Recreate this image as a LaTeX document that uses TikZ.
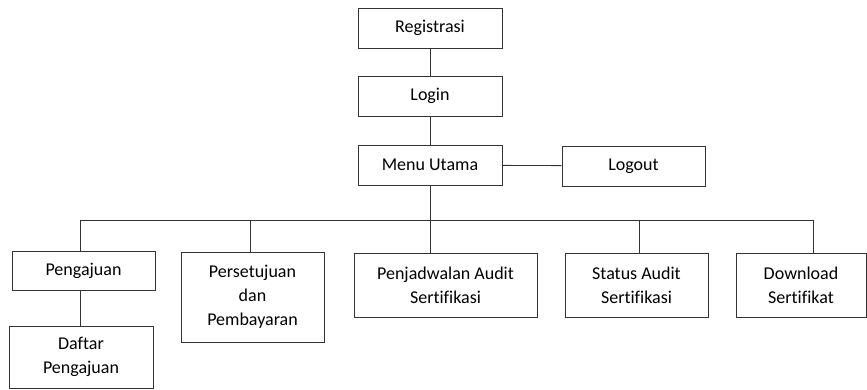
\documentclass[tikz,border=0pt]{standalone}
\usepackage{fontspec}
\setmainfont{Carlito}[Ligatures=NoCommon]
\usetikzlibrary{positioning}
\usetikzlibrary{calc}

\begin{document}
\begin{tikzpicture}[x=1pt,y=-1pt,
  box/.style={draw=black!80,line width=0.8pt,align=center,inner sep=0pt,
    font=\fontsize{18}{24}\selectfont,text=black},
  link/.style={draw=black!80,line width=0.8pt}]
\useasboundingbox (0,0) rectangle (867,389);
% atas
\node[box,minimum width=144,minimum height=40] (reg) at (430,28) {Registrasi};
\node[box,minimum width=144,minimum height=40] (login) at (430,96) {Login};
\node[box,minimum width=144,minimum height=40] (menu) at (430,165) {Menu Utama};
\node[box,minimum width=143,minimum height=40] (logout) at (633.5,166) {Logout};
% menu
\node[box,minimum width=143,minimum height=39] (peng) at (83.5,270.5) {Pengajuan};
\node[box,minimum width=144,minimum height=62] (daftar) at (81,357) {Daftar\\Pengajuan};
\node[box,minimum width=143,minimum height=90] (setuju) at (252.5,297) {Persetujuan\\dan\\Pembayaran};
\node[box,minimum width=183,minimum height=64] (jadwal) at (445.5,285) {Penjadwalan Audit\\Sertifikasi};
\node[box,minimum width=143,minimum height=64] (status) at (636.5,285) {Status Audit\\Sertifikasi};
\node[box,minimum width=130,minimum height=64] (unduh) at (801,285) {Download\\Sertifikat};
% garis
\coordinate (b1) at (80,220);
\coordinate (b2) at (250,220);
\coordinate (b3) at (430,220);
\coordinate (b4) at (639,220);
\coordinate (b5) at (813,220);
\draw[link] (reg) -- (login);
\draw[link] (login) -- (menu);
\draw[link] (menu) -- (logout);
\draw[link] (menu) -- (b3);
\draw[link] (b1) -- (b5);
\draw[link] (b1) -- (b1 |- peng.north);
\draw[link] (b2) -- (b2 |- setuju.north);
\draw[link] (b3) -- (b3 |- jadwal.north);
\draw[link] (b4) -- (b4 |- status.north);
\draw[link] (b5) -- (b5 |- unduh.north);
\draw[link] (b1 |- peng.south) -- (b1 |- daftar.north);
\end{tikzpicture}
\end{document}
